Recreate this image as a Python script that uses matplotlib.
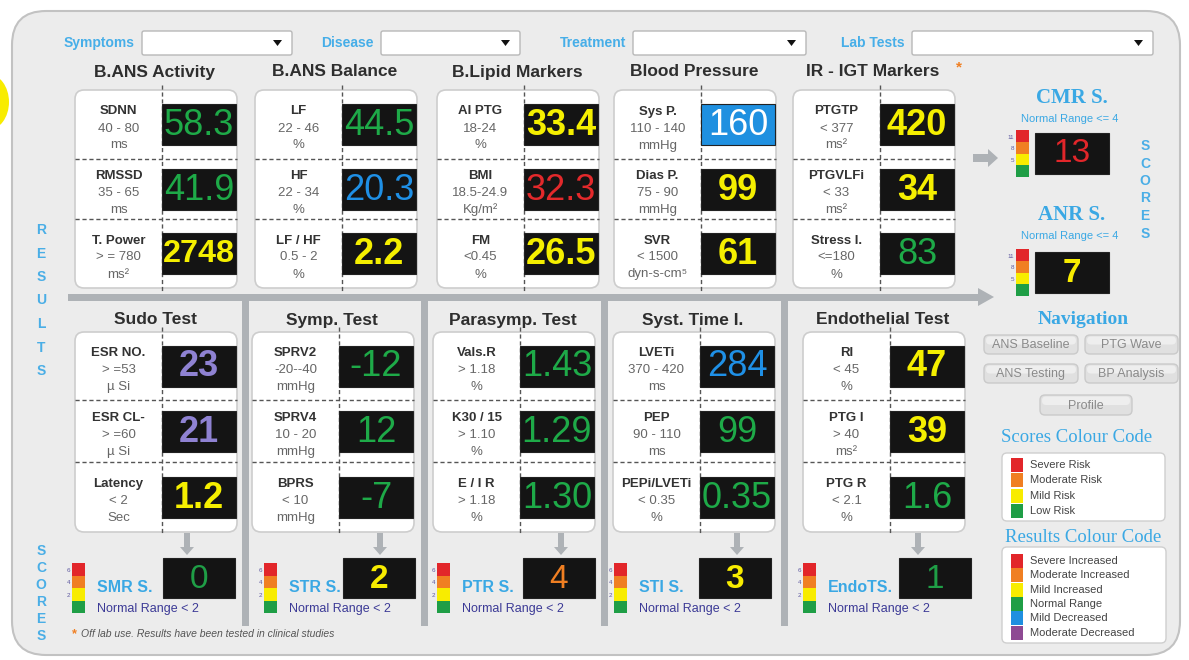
import matplotlib.pyplot as plt
from matplotlib.patches import FancyBboxPatch, Rectangle, Polygon, Ellipse

plt.rcParams['font.family'] = ['Liberation Sans', 'DejaVu Sans']

# ---------------- data ----------------
filter_labels = ['Symptoms', 'Disease', 'Treatment', 'Lab Tests']

top_titles = ['B.ANS Activity', 'B.ANS Balance', 'B.Lipid Markers', 'Blood Pressure', 'IR - IGT Markers']
top_names = [['SDNN', 'RMSSD', 'T. Power'], ['LF', 'HF', 'LF / HF'], ['AI PTG', 'BMI', 'FM'],
             ['Sys P.', 'Dias P.', 'SVR'], ['PTGTP', 'PTGVLFi', 'Stress I.']]
top_ranges = [['40 - 80', '35 - 65', '> = 780'], ['22 - 46', '22 - 34', '0.5 - 2'],
              ['18-24', '18.5-24.9', '<0.45'], ['110 - 140', '75 - 90', '< 1500'],
              ['< 377', '< 33', '<=180']]
top_units = [['ms', 'ms', 'ms²'], ['%', '%', '%'], ['%', 'Kg/m²', '%'],
             ['mmHg', 'mmHg', 'dyn-s-cm⁵'], ['ms²', 'ms²', '%']]
top_values = [['58.3', '41.9', '2748'], ['44.5', '20.3', '2.2'], ['33.4', '32.3', '26.5'],
              ['160', '99', '61'], ['420', '34', '83']]
top_status = [['Normal Range', 'Normal Range', 'Mild Increased'],
              ['Normal Range', 'Mild Decreased', 'Mild Increased'],
              ['Mild Increased', 'Severe Increased', 'Mild Increased'],
              ['Selected', 'Mild Increased', 'Mild Increased'],
              ['Mild Increased', 'Mild Increased', 'Normal Range']]

bottom_titles = ['Sudo Test', 'Symp. Test', 'Parasymp. Test', 'Syst. Time I.', 'Endothelial Test']
bottom_names = [['ESR NO.', 'ESR CL-', 'Latency'], ['SPRV2', 'SPRV4', 'BPRS'],
                ['Vals.R', 'K30 / 15', 'E / I R'], ['LVETi', 'PEP', 'PEPi/LVETi'],
                ['RI', 'PTG I', 'PTG R']]
bottom_ranges = [['> =53', '> =60', '< 2'], ['-20--40', '10 - 20', '< 10'],
                 ['> 1.18', '> 1.10', '> 1.18'], ['370 - 420', '90 - 110', '< 0.35'],
                 ['< 45', '> 40', '< 2.1']]
bottom_units = [['µ Si', 'µ Si', 'Sec'], ['mmHg', 'mmHg', 'mmHg'], ['%', '%', '%'],
                ['ms', 'ms', '%'], ['%', 'ms²', '%']]
bottom_values = [['23', '21', '1.2'], ['-12', '12', '-7'], ['1.43', '1.29', '1.30'],
                 ['284', '99', '0.35'], ['47', '39', '1.6']]
bottom_status = [['Moderate Decreased', 'Moderate Decreased', 'Mild Increased'],
                 ['Normal Range', 'Normal Range', 'Normal Range'],
                 ['Normal Range', 'Normal Range', 'Normal Range'],
                 ['Mild Decreased', 'Normal Range', 'Normal Range'],
                 ['Mild Increased', 'Mild Increased', 'Normal Range']]

score_names = ['SMR S.', 'STR S.', 'PTR S.', 'STI S.', 'EndoTS.']
score_values = [0, 2, 4, 3, 1]
score_ticks = [2, 4, 6]
side_score_names = ['CMR S.', 'ANR S.']
side_score_values = [13, 7]
side_score_ticks = [5, 8, 11]

nav_buttons = ['ANS Baseline', 'PTG Wave', 'ANS Testing', 'BP Analysis', 'Profile']
score_code = ['Severe Risk', 'Moderate Risk', 'Mild Risk', 'Low Risk']
result_code = ['Severe Increased', 'Moderate Increased', 'Mild Increased',
               'Normal Range', 'Mild Decreased', 'Moderate Decreased']

# ---------------- style ----------------
RISK = ['#e2262a', '#f07f22', '#f8ec00', '#1f9e46']
CODE_COL = dict(zip(result_code, ['#e2262a', '#f07f22', '#f8ec00', '#1f9e46', '#1f8fe0', '#8e4a93']))
TXT_COL = dict(zip(result_code, ['#e3292b', '#f07f22', '#f5ef00', '#1eaa48', '#1f90e6', '#8f82d2']))
BLUE = '#3aa8e4'
GREY = '#aeb2b6'
BOXC = '#141414'

fig = plt.figure(figsize=(11.89, 6.6), dpi=100, facecolor='white')
ax = fig.add_axes([0, 0, 1, 1])
ax.set_xlim(0, 1189)
ax.set_ylim(660, 0)
ax.axis('off')


def rbox(x0, y0, x1, y1, fc, ec, r, lw=1, z=2):
    ax.add_patch(FancyBboxPatch((x0, y0), x1 - x0, y1 - y0,
                                boxstyle=f'round,pad=0,rounding_size={r}',
                                fc=fc, ec=ec, lw=lw, zorder=z))


def score_color(v, ticks):
    for i, t in enumerate(ticks):
        if v < t:
            return RISK[3 - i]
    return RISK[0]


def value_size(s, width=72):
    em = sum(0.278 if c == '.' else 0.333 if c == '-' else 0.556 for c in s)
    return min(26, width / em / 1.389)


def value_box(x0, x1, yc, text, color, bg=BOXC, h=41):
    ax.add_patch(Rectangle((x0, yc - h / 2), x1 - x0, h, fc=bg, ec='#222', lw=0.8, zorder=4))
    bold = color in (TXT_COL['Mild Increased'], TXT_COL['Moderate Decreased'])
    ax.text((x0 + x1) / 2, yc + 1, text, color=color, fontsize=value_size(text),
            fontweight='bold' if bold else 'medium', ha='center', va='center', zorder=5)


def card(left, top, bottom, title, title_y, names, ranges, units, values, status, rows, div=87):
    right = left + 162
    ax.text(left + 80, title_y, title, fontsize=12.5, fontweight='bold', color='#2e2e2e',
            ha='center', va='center', zorder=3)
    rbox(left, top, right, bottom, 'white', '#cdcdcd', 9, lw=1.2)
    dx = left + div
    ax.plot([dx, dx], [top - 5, bottom + 3], color='#555', lw=1, ls=(0, (3, 2)), zorder=3)
    bounds = [top] + rows + [bottom]
    for y in rows:
        ax.plot([left, right], [y, y], color='#555', lw=1, ls=(0, (3, 2)), zorder=3)
    for i in range(3):
        yc = (bounds[i] + bounds[i + 1]) / 2 + 2
        lx = (left + dx) / 2
        ax.text(lx, yc - 15, names[i], fontsize=9.5, fontweight='bold', color='#333',
                ha='center', va='center', zorder=3)
        ax.text(lx, yc + 2, ranges[i], fontsize=9.5, color='#666', ha='center', va='center', zorder=3)
        ax.text(lx, yc + 19, units[i], fontsize=9.5, color='#666', ha='center', va='center', zorder=3)
        if status[i] == 'Selected':
            value_box(dx, left + 161, yc - 2, values[i], 'white', bg='#1f90e0')
        else:
            value_box(dx, left + 161, yc - 2, values[i], TXT_COL[status[i]])


def strip(x0, y0, h, ticks):
    seg = h / 4
    for i, c in enumerate(RISK):
        ax.add_patch(Rectangle((x0, y0 + i * seg), 13, seg, fc=c, ec='none', zorder=4))
    for i, t in enumerate(reversed(ticks)):
        ax.text(x0 - 2, y0 + (i + 0.6) * seg, str(t), fontsize=4.5, color='#5e58a0',
                ha='right', va='center', zorder=4)


def arrow_down(x, y0, y1):
    ax.add_patch(Polygon([(x - 3, y0), (x + 3, y0), (x + 3, y1 - 8), (x + 7, y1 - 8), (x, y1),
                          (x - 7, y1 - 8), (x - 3, y1 - 8)], closed=True, fc=GREY, ec='none', zorder=3))


# ---------------- background ----------------
ax.add_patch(Ellipse((-12, 102), 42, 56, fc='#f8ec00', ec='none', zorder=0))
rbox(12, 11, 1180, 655, '#ececec', '#c2c2c2', 34, lw=1.5, z=1)

# filters row
filter_boxes = [(142, 292), (381, 520), (633, 806), (912, 1153)]
for lab, (b0, b1) in zip(filter_labels, filter_boxes):
    ax.text(b0 - 7, 43, lab, fontsize=10, fontweight='bold', color='#46aee8',
            ha='right', va='center', zorder=3)
    rbox(b0, 31, b1, 55, 'white', '#b8b8b8', 2, lw=1)
    ax.add_patch(Polygon([(b1 - 19, 40), (b1 - 10, 40), (b1 - 14.5, 46)], closed=True,
                         fc='#111', ec='none', zorder=3))

# top cards
top_lefts = [75, 255, 437, 614, 793]
for k in range(5):
    card(top_lefts[k], 90, 288, top_titles[k], 72, top_names[k], top_ranges[k],
         top_units[k], top_values[k], top_status[k], [159, 219])
ax.text(959, 67, '*', fontsize=11, fontweight='bold', color='#f07f22', ha='center', va='center')

# horizontal separator with arrow
ax.add_patch(Rectangle((68, 294), 912, 6.5, fc=GREY, ec='none', zorder=2))
ax.add_patch(Polygon([(978, 288), (994, 297), (978, 306)], closed=True, fc=GREY, ec='none', zorder=2))
for x in [245, 424, 604, 784]:
    ax.add_patch(Rectangle((x - 3, 297), 6.5, 329, fc=GREY, ec='none', zorder=2))

# bottom cards
bottom_lefts = [75, 252, 433, 613, 803]
for k in range(5):
    card(bottom_lefts[k], 332, 532, bottom_titles[k], 320, bottom_names[k], bottom_ranges[k],
         bottom_units[k], bottom_values[k], bottom_status[k], [400, 462])

# bottom scores
arrow_x = [187, 380, 561, 737, 918]
score_box_x = [163, 343, 523, 699, 899]
strip_x = [72, 264, 437, 614, 803]
for k in range(5):
    arrow_down(arrow_x[k], 533, 555)
    strip(strip_x[k], 563, 50, score_ticks)
    ax.text(strip_x[k] + 25, 587, score_names[k], fontsize=11.5, fontweight='bold', color=BLUE,
            ha='left', va='center', zorder=3)
    ax.text(strip_x[k] + 25, 609, 'Normal Range < 2', fontsize=9, color='#3c3a96',
            ha='left', va='center', zorder=3)
    ax.add_patch(Rectangle((score_box_x[k], 558), 72, 40, fc=BOXC, ec='#222', lw=0.8, zorder=4))
    c = score_color(score_values[k], score_ticks)
    ax.text(score_box_x[k] + 36, 579, str(score_values[k]), color=c, fontsize=24,
            fontweight='bold' if c == RISK[2] else 'medium', ha='center', va='center', zorder=5)

# right-side scores
side_title_y = [98, 215]
side_box_y = [133, 252]
for k in range(2):
    ax.text(1072, side_title_y[k], side_score_names[k], fontsize=15, fontweight='bold',
            family='Liberation Serif', color=BLUE, ha='center', va='center')
    ax.text(1070, side_title_y[k] + 21, 'Normal Range <= 4', fontsize=8, color=BLUE,
            ha='center', va='center')
    strip(1016, side_box_y[k] - 3, 47, side_score_ticks)
    ax.add_patch(Rectangle((1035, side_box_y[k]), 74, 41, fc=BOXC, ec='#222', lw=0.8, zorder=4))
    c = score_color(side_score_values[k], side_score_ticks)
    ax.text(1072, side_box_y[k] + 21, str(side_score_values[k]), color=c, fontsize=24,
            fontweight='bold' if c == RISK[2] else 'medium', ha='center', va='center', zorder=5)
ax.add_patch(Polygon([(973, 154), (988, 154), (988, 149), (998, 158), (988, 167), (988, 162), (973, 162)],
                     closed=True, fc=GREY, ec='none', zorder=3))

# vertical captions
for i, ch in enumerate('RESULTS'):
    ax.text(41, 230 + i * 23.5, ch, fontsize=10, fontweight='bold', color='#4aaee6', ha='center', va='center')
for i, ch in enumerate('SCORES'):
    ax.text(41, 551 + i * 17, ch, fontsize=10, fontweight='bold', color='#4aaee6', ha='center', va='center')
    ax.text(1145, 146 + i * 17.5, ch, fontsize=10, fontweight='bold', color='#4aaee6', ha='center', va='center')

# footnote
ax.text(74, 634, '*', fontsize=9, fontweight='bold', color='#f07f22', ha='center', va='center')
ax.text(81, 634, 'Off lab use. Results have been tested in clinical studies', fontsize=7.5,
        style='italic', color='#555', ha='left', va='center')

# navigation
ax.text(1083, 320, 'Navigation', fontsize=14, fontweight='bold', family='Liberation Serif',
        color=BLUE, ha='center', va='center')
btn_pos = [(984, 1078, 335, 354), (1085, 1178, 335, 354), (984, 1078, 364, 383),
           (1085, 1178, 364, 383), (1040, 1132, 395, 415)]
for name, (x0, x1, y0, y1) in zip(nav_buttons, btn_pos):
    rbox(x0, y0, x1, y1, '#e0e0e0', '#cacaca', 5, lw=1)
    rbox(x0 + 2, y0 + 1.5, x1 - 2, (y0 + y1) / 2, '#eeeeee', 'none', 4, lw=0, z=2)
    ax.text((x0 + x1) / 2, (y0 + y1) / 2 + 1, name, fontsize=9, color='#8a8a8a',
            ha='center', va='center', zorder=3)

# colour code legends
ax.text(1077, 437, 'Scores Colour Code', fontsize=13.5, family='Liberation Serif', color=BLUE,
        ha='center', va='center')
rbox(1002, 453, 1165, 521, 'white', '#cfcfcf', 5, lw=1)
for i, name in enumerate(score_code):
    y = 465 + i * 15.3
    ax.add_patch(Rectangle((1011, y - 7), 12, 14, fc=RISK[i], ec='none', zorder=3))
    ax.text(1030, y, name, fontsize=8, color='#444', ha='left', va='center', zorder=3)

ax.text(1083, 537, 'Results Colour Code', fontsize=13.5, family='Liberation Serif', color=BLUE,
        ha='center', va='center')
rbox(1002, 547, 1166, 643, 'white', '#cfcfcf', 5, lw=1)
for i, name in enumerate(result_code):
    y = 561 + i * 14.3
    ax.add_patch(Rectangle((1011, y - 7), 12, 14, fc=CODE_COL[name], ec='none', zorder=3))
    ax.text(1030, y, name, fontsize=8, color='#444', ha='left', va='center', zorder=3)

fig.savefig('out.png', dpi=100, facecolor='white')
